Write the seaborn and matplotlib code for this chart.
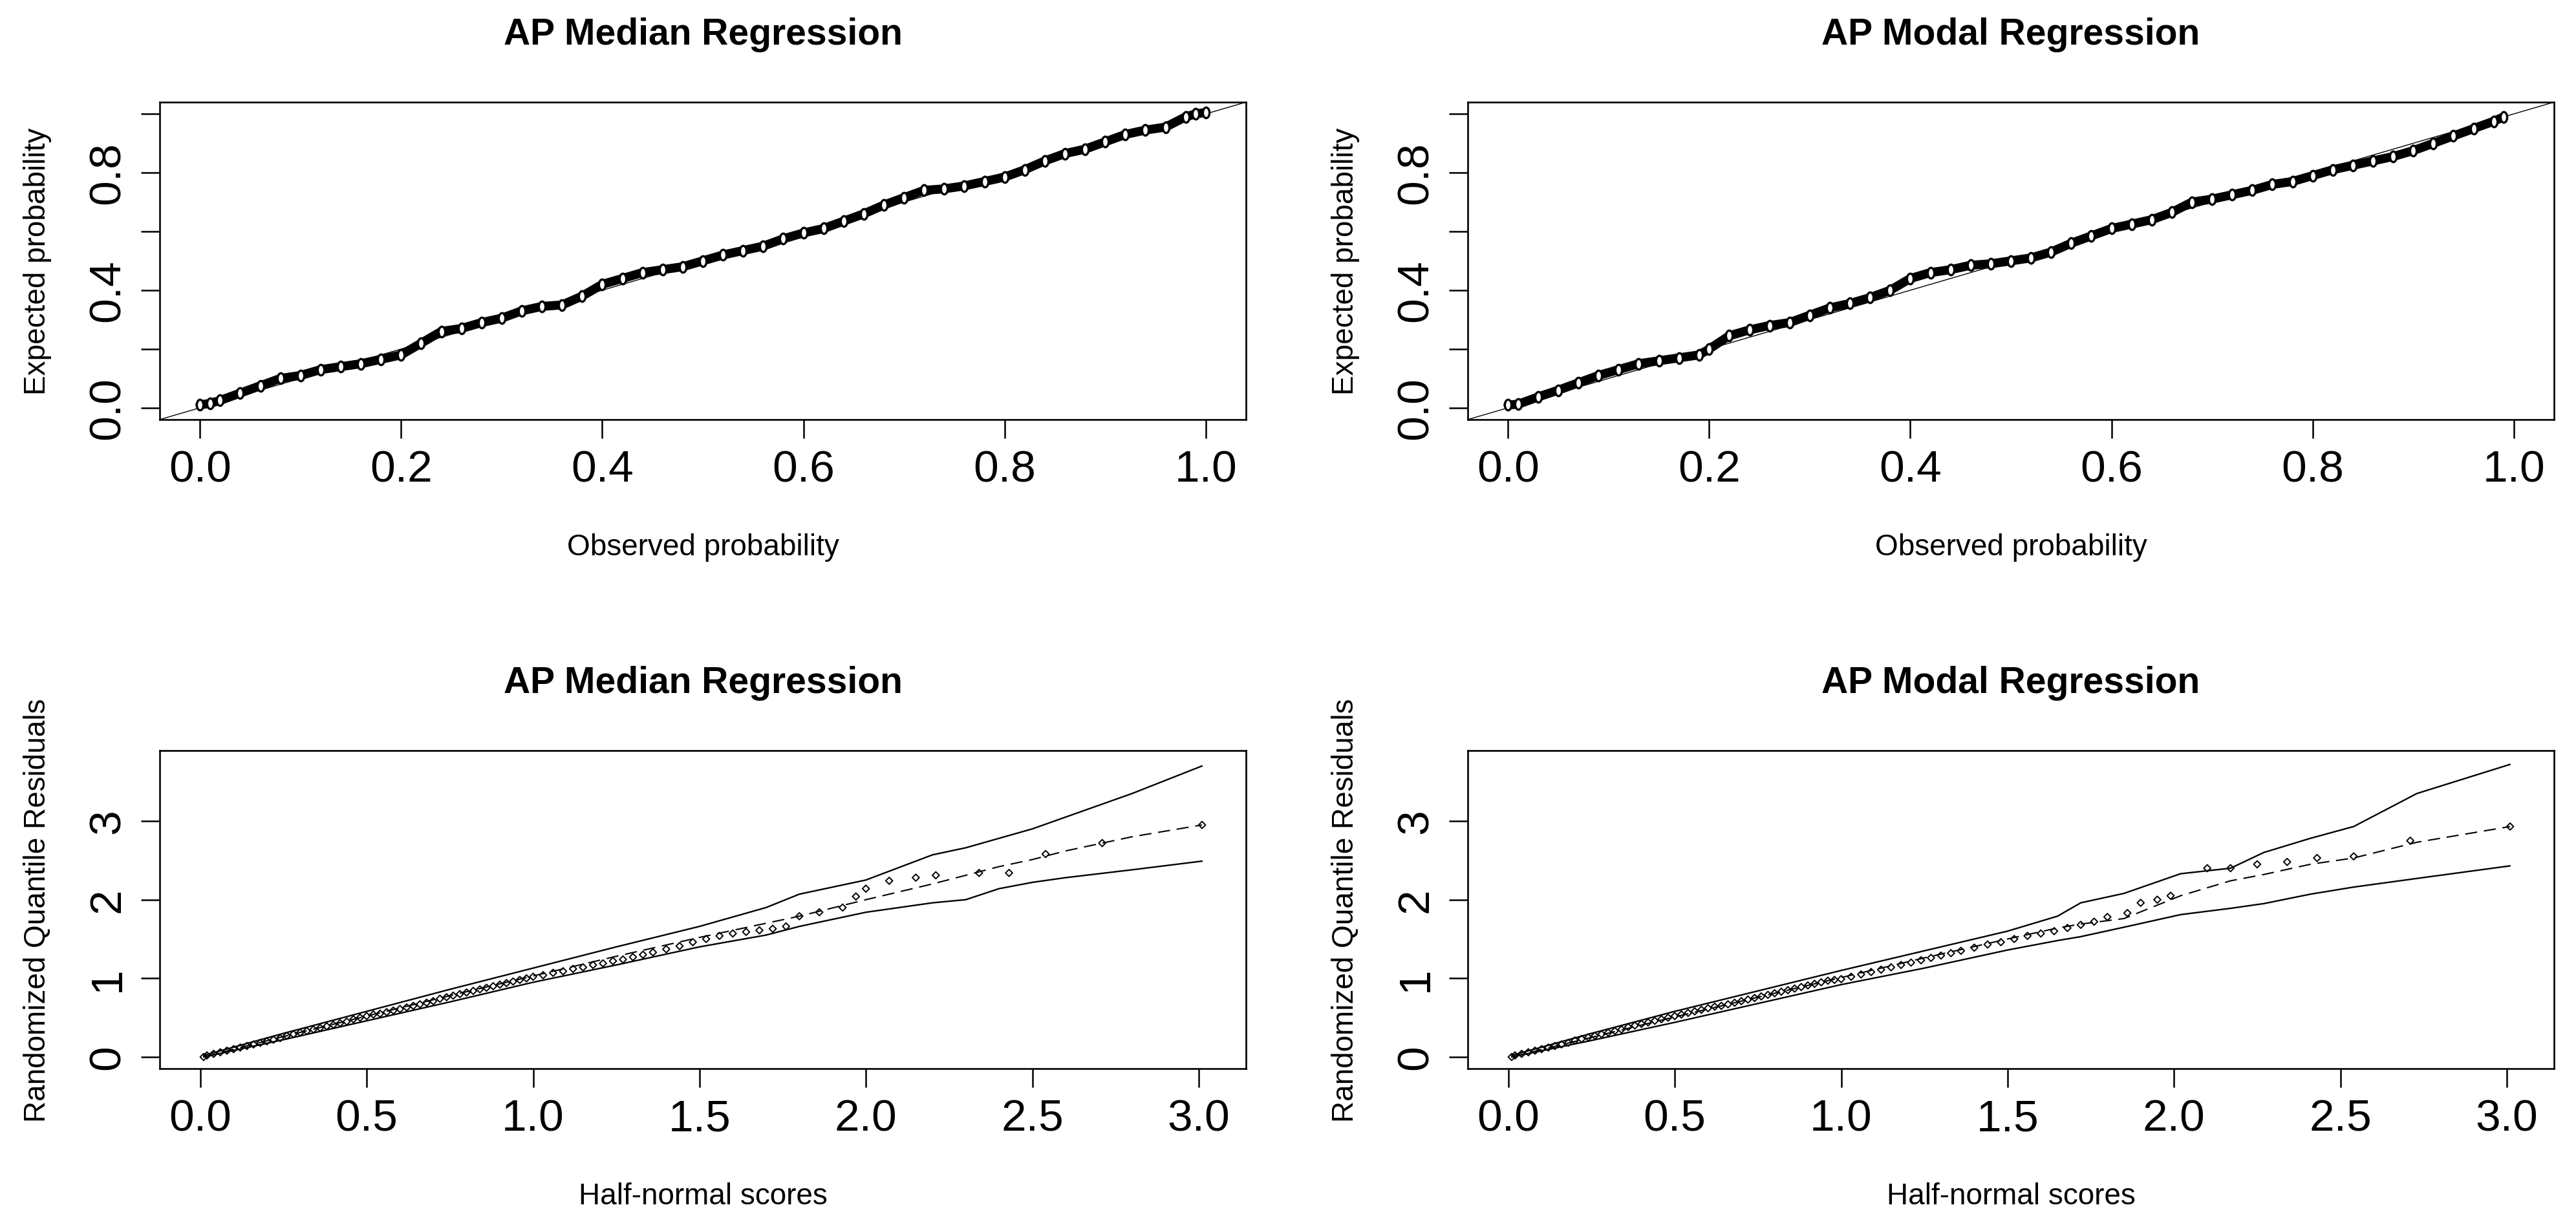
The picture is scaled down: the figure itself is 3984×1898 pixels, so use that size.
import matplotlib
matplotlib.use("Agg")
import matplotlib.pyplot as plt
from matplotlib.path import Path
from matplotlib.transforms import Affine2D
import pandas as pd
import seaborn as sns

# ==============================================================
# Datos
# ==============================================================

titles = ["AP Median Regression", "AP Modal Regression"]

# P-P plots (fila de arriba)
pp_obs_median = [0.00, 0.01, 0.02, 0.04, 0.06, 0.08, 0.10, 0.12, 0.14, 0.16, 0.18, 0.20,
                 0.22, 0.24, 0.26, 0.28, 0.30, 0.32, 0.34, 0.36, 0.38, 0.40, 0.42, 0.44,
                 0.46, 0.48, 0.50, 0.52, 0.54, 0.56, 0.58, 0.60, 0.62, 0.64, 0.66, 0.68,
                 0.70, 0.72, 0.74, 0.76, 0.78, 0.80, 0.82, 0.84, 0.86, 0.88, 0.90, 0.92,
                 0.94, 0.96, 0.98, 0.99, 1.00]
pp_exp_median = [0.010, 0.015, 0.025, 0.050, 0.075, 0.100, 0.110, 0.130, 0.140, 0.150, 0.165, 0.180,
                 0.220, 0.260, 0.270, 0.290, 0.305, 0.330, 0.345, 0.350, 0.380, 0.420, 0.440, 0.460,
                 0.470, 0.480, 0.500, 0.520, 0.535, 0.550, 0.575, 0.595, 0.610, 0.635, 0.660, 0.690,
                 0.715, 0.740, 0.745, 0.755, 0.770, 0.785, 0.810, 0.840, 0.865, 0.880, 0.905, 0.930,
                 0.945, 0.955, 0.990, 1.000, 1.005]

pp_obs_modal = [0.00, 0.01, 0.03, 0.05, 0.07, 0.09, 0.11, 0.13, 0.15, 0.17, 0.19, 0.20,
                0.22, 0.24, 0.26, 0.28, 0.30, 0.32, 0.34, 0.36, 0.38, 0.40, 0.42, 0.44,
                0.46, 0.48, 0.50, 0.52, 0.54, 0.56, 0.58, 0.60, 0.62, 0.64, 0.66, 0.68,
                0.70, 0.72, 0.74, 0.76, 0.78, 0.80, 0.82, 0.84, 0.86, 0.88, 0.90, 0.92,
                0.94, 0.96, 0.98, 0.99]
pp_exp_modal = [0.010, 0.012, 0.037, 0.060, 0.085, 0.110, 0.130, 0.150, 0.160, 0.170, 0.180, 0.200,
                0.245, 0.265, 0.280, 0.290, 0.315, 0.340, 0.355, 0.375, 0.400, 0.440, 0.460, 0.470,
                0.485, 0.490, 0.500, 0.510, 0.530, 0.560, 0.585, 0.610, 0.625, 0.640, 0.665, 0.700,
                0.710, 0.725, 0.740, 0.760, 0.770, 0.790, 0.810, 0.825, 0.840, 0.855, 0.875, 0.900,
                0.925, 0.950, 0.975, 0.990]

# Half-normal plots (fila de abajo): residuos
hn_x_median = [0.01, 0.02, 0.04, 0.06, 0.08, 0.10, 0.12, 0.14, 0.16, 0.18, 0.20, 0.22,
               0.24, 0.26, 0.28, 0.30, 0.32, 0.34, 0.36, 0.38, 0.40, 0.42, 0.44, 0.46,
               0.48, 0.50, 0.52, 0.54, 0.56, 0.58, 0.60, 0.62, 0.64, 0.66, 0.68, 0.70,
               0.72, 0.74, 0.76, 0.78, 0.80, 0.82, 0.84, 0.86, 0.88, 0.90, 0.92, 0.94,
               0.96, 0.98, 1.00, 1.03, 1.06, 1.09, 1.12, 1.15, 1.18, 1.21, 1.24, 1.27,
               1.30, 1.33, 1.36, 1.40, 1.44, 1.48, 1.52, 1.56, 1.60, 1.64, 1.68, 1.72,
               1.76, 1.80, 1.86, 1.93, 1.97, 2.00, 2.07, 2.15, 2.21, 2.34, 2.43, 2.54,
               2.71, 3.01]
hn_res_median = [0.00, 0.02, 0.04, 0.06, 0.08, 0.10, 0.12, 0.14, 0.16, 0.18, 0.20, 0.22,
                 0.24, 0.27, 0.29, 0.31, 0.33, 0.35, 0.37, 0.39, 0.41, 0.43, 0.45, 0.48,
                 0.50, 0.52, 0.54, 0.55, 0.57, 0.59, 0.61, 0.63, 0.65, 0.67, 0.69, 0.71,
                 0.74, 0.76, 0.78, 0.80, 0.82, 0.84, 0.86, 0.88, 0.90, 0.92, 0.94, 0.96,
                 0.98, 1.00, 1.02, 1.04, 1.07, 1.09, 1.12, 1.14, 1.17, 1.19, 1.22, 1.24,
                 1.27, 1.30, 1.33, 1.37, 1.41, 1.46, 1.50, 1.54, 1.57, 1.59, 1.61, 1.63,
                 1.66, 1.79, 1.84, 1.90, 2.04, 2.14, 2.24, 2.28, 2.31, 2.34, 2.34, 2.58,
                 2.72, 2.95]

hn_x_modal = [0.01, 0.02, 0.04, 0.06, 0.08, 0.10, 0.12, 0.14, 0.16, 0.18, 0.20, 0.22,
              0.24, 0.26, 0.28, 0.30, 0.32, 0.34, 0.36, 0.38, 0.40, 0.42, 0.44, 0.46,
              0.48, 0.50, 0.52, 0.54, 0.56, 0.58, 0.60, 0.62, 0.64, 0.66, 0.68, 0.70,
              0.72, 0.74, 0.76, 0.78, 0.80, 0.82, 0.84, 0.86, 0.88, 0.90, 0.92, 0.94,
              0.96, 0.98, 1.00, 1.03, 1.06, 1.09, 1.12, 1.15, 1.18, 1.21, 1.24, 1.27,
              1.30, 1.33, 1.36, 1.40, 1.44, 1.48, 1.52, 1.56, 1.60, 1.64, 1.68, 1.72,
              1.76, 1.80, 1.86, 1.90, 1.95, 1.99, 2.10, 2.17, 2.25, 2.34, 2.43, 2.54,
              2.71, 3.01]
hn_res_modal = [0.00, 0.02, 0.04, 0.06, 0.08, 0.10, 0.12, 0.14, 0.16, 0.18, 0.21, 0.23,
                0.25, 0.27, 0.29, 0.31, 0.33, 0.35, 0.38, 0.40, 0.42, 0.44, 0.46, 0.48,
                0.50, 0.52, 0.54, 0.56, 0.58, 0.60, 0.62, 0.64, 0.65, 0.67, 0.69, 0.71,
                0.73, 0.75, 0.77, 0.79, 0.81, 0.83, 0.85, 0.87, 0.89, 0.91, 0.93, 0.95,
                0.97, 0.98, 0.99, 1.02, 1.05, 1.08, 1.11, 1.14, 1.17, 1.20, 1.23, 1.26,
                1.29, 1.32, 1.35, 1.39, 1.43, 1.46, 1.50, 1.54, 1.57, 1.60, 1.64, 1.68,
                1.72, 1.78, 1.83, 1.96, 2.00, 2.05, 2.40, 2.40, 2.45, 2.48, 2.53, 2.55,
                2.75, 2.93]

# Bandas de simulacion (envelope)
env_x_median = [0.01, 0.25, 0.5, 0.75, 1.0, 1.25, 1.5, 1.7, 1.8, 2.0, 2.2, 2.3, 2.4, 2.5, 2.6, 2.8, 3.01]
env_upper_median = [0.02, 0.30, 0.58, 0.86, 1.13, 1.40, 1.66, 1.90, 2.07, 2.25, 2.57, 2.66, 2.78, 2.90, 3.05, 3.35, 3.70]
env_mid_median = [0.00, 0.26, 0.52, 0.78, 1.03, 1.28, 1.52, 1.70, 1.79, 2.00, 2.20, 2.31, 2.42, 2.51, 2.62, 2.80, 2.95]
env_lower_median = [0.00, 0.22, 0.46, 0.70, 0.95, 1.17, 1.40, 1.55, 1.66, 1.84, 1.96, 2.00, 2.14, 2.22, 2.28, 2.38, 2.49]

env_x_modal = [0.01, 0.25, 0.5, 0.75, 1.0, 1.25, 1.5, 1.65, 1.72, 1.85, 2.02, 2.17, 2.27, 2.41, 2.54, 2.73, 3.01]
env_upper_modal = [0.02, 0.30, 0.58, 0.84, 1.10, 1.35, 1.60, 1.79, 1.96, 2.08, 2.33, 2.40, 2.60, 2.78, 2.93, 3.35, 3.72]
env_mid_modal = [0.00, 0.25, 0.51, 0.76, 1.01, 1.26, 1.50, 1.64, 1.69, 1.76, 2.05, 2.24, 2.32, 2.45, 2.53, 2.73, 2.93]
env_lower_modal = [0.00, 0.21, 0.44, 0.68, 0.92, 1.13, 1.36, 1.48, 1.53, 1.65, 1.81, 1.89, 1.95, 2.07, 2.16, 2.27, 2.43]

pp_ticks = [0.0, 0.2, 0.4, 0.6, 0.8, 1.0]
pp_xlabels = ["0.0", "0.2", "0.4", "0.6", "0.8", "1.0"]
pp_ylabels = ["0.0", "", "0.4", "", "0.8", ""]
hn_xticks = [0.0, 0.5, 1.0, 1.5, 2.0, 2.5, 3.0]
hn_xlabels = ["0.0", "0.5", "1.0", "1.5", "2.0", "2.5", "3.0"]
hn_yticks = [0, 1, 2, 3]

# ==============================================================
# Estilo
# ==============================================================
sns.set_style("ticks")
plt.rcParams['font.family'] = ['Liberation Sans', 'DejaVu Sans']
plt.rcParams['text.color'] = 'black'
plt.rcParams['axes.labelcolor'] = 'black'
plt.rcParams['xtick.color'] = 'black'
plt.rcParams['ytick.color'] = 'black'

W, H = 3984, 1899
fig = plt.figure(figsize=(W / 100, H / 100), dpi=100)


def rect(left, top, right, bottom):
    return [left / W, 1 - bottom / H, (right - left) / W, (bottom - top) / H]


# marcador ovalado (los circulos del original salen estirados)
oval = Path.unit_circle().transformed(Affine2D().scale(0.62, 1.0))


def style_axes(ax):
    for sp in ax.spines.values():
        sp.set_visible(True)
        sp.set_color("black")
        sp.set_linewidth(1.9)
    ax.tick_params(axis="both", direction="out", length=21, width=1.8,
                   color="black", labelcolor="black", labelsize=50)
    ax.tick_params(axis="x", pad=12)
    ax.tick_params(axis="y", pad=14, labelrotation=90)
    for lab in ax.get_yticklabels():
        lab.set_va("center")
        lab.set_ha("right")
    ax.grid(False)


# ==============================================================
# Fila de arriba: P-P plots
# ==============================================================
pp_sets = [(pp_obs_median, pp_exp_median), (pp_obs_modal, pp_exp_modal)]
for i, (obs, exp) in enumerate(pp_sets):
    left = 247 if i == 0 else 2270
    ax = fig.add_axes(rect(left, 159, left + 1680, 650))
    df = pd.DataFrame({"obs": obs, "exp": exp})
    ax.axline((0, 0), (1, 1), color="black", lw=1.0, zorder=1)
    sns.lineplot(data=df, x="obs", y="exp", ax=ax, color="black", lw=10,
                 sort=False, estimator=None, zorder=2)
    sns.scatterplot(data=df, x="obs", y="exp", ax=ax, marker=oval, s=140,
                    facecolor="white", edgecolor="black", linewidth=2.4, zorder=3)
    ax.set_xlim(-0.04, 1.04)
    ax.set_ylim(-0.04, 1.04)
    ax.set_xticks(pp_ticks)
    ax.set_xticklabels(pp_xlabels)
    ax.set_yticks(pp_ticks)
    ax.set_yticklabels(pp_ylabels)
    style_axes(ax)
    ax.set_title(titles[i], fontsize=41, fontweight="bold", pad=65)
    ax.set_xlabel("Observed probability", fontsize=33)
    ax.set_ylabel("Expected probability", fontsize=33)
    ax.xaxis.set_label_coords(0.5, -0.356)
    ax.yaxis.set_label_coords(-0.0994, 0.5)

# ==============================================================
# Fila de abajo: half-normal plots con envelope
# ==============================================================
hn_sets = [
    (hn_x_median, hn_res_median, env_x_median, env_lower_median, env_mid_median, env_upper_median),
    (hn_x_modal, hn_res_modal, env_x_modal, env_lower_modal, env_mid_modal, env_upper_modal),
]
for i, (hx, hy, ex, elo, emid, eup) in enumerate(hn_sets):
    left = 247 if i == 0 else 2270
    ax = fig.add_axes(rect(left, 1162, left + 1680, 1654))
    env = pd.DataFrame({"x": ex, "lower": elo, "mid": emid, "upper": eup})
    sns.lineplot(data=env, x="x", y="upper", ax=ax, color="black", lw=1.7,
                 sort=False, estimator=None)
    sns.lineplot(data=env, x="x", y="lower", ax=ax, color="black", lw=1.7,
                 sort=False, estimator=None)
    sns.lineplot(data=env, x="x", y="mid", ax=ax, color="black", lw=1.5,
                 sort=False, estimator=None, dashes=False, linestyle=(0, (9, 5)))
    pts = pd.DataFrame({"x": hx, "y": hy})
    sns.scatterplot(data=pts, x="x", y="y", ax=ax, marker="D", s=30,
                    facecolor="none", edgecolor="black", linewidth=1.4, zorder=3)
    ax.set_xlim(-0.122, 3.142)
    ax.set_ylim(-0.148, 3.896)
    ax.set_xticks(hn_xticks)
    ax.set_xticklabels(hn_xlabels)
    ax.set_yticks(hn_yticks)
    ax.set_yticklabels([str(t) for t in hn_yticks])
    style_axes(ax)
    ax.set_title(titles[i], fontsize=41, fontweight="bold", pad=65)
    ax.set_xlabel("Half-normal scores", fontsize=33)
    ax.set_ylabel("Randomized Quantile Residuals", fontsize=33)
    ax.xaxis.set_label_coords(0.5, -0.356)
    ax.yaxis.set_label_coords(-0.0994, 0.5)

fig.savefig("out.png", dpi=100)
plt.close(fig)
